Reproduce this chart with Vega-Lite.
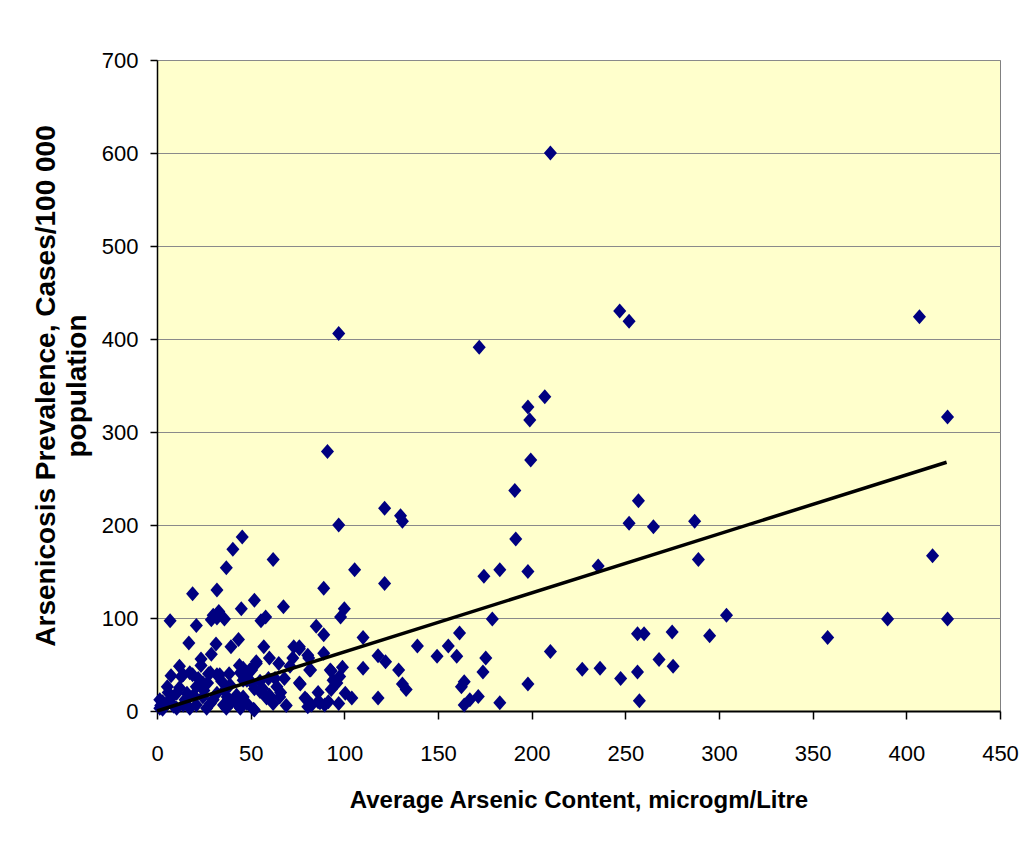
{
  "$schema": "https://vega.github.io/schema/vega-lite/v6.json",
  "width": 843,
  "height": 651,
  "autosize": "none",
  "padding": {"left": 157, "top": 60, "right": 22, "bottom": 144},
  "background": "white",
  "config": {
    "view": {"fill": "#FFFFCC", "stroke": "#808080", "strokeWidth": 1}
  },
  "datasets": {
    "pts": [
      {"As":210,"Prev":600},{"As":97,"Prev":406},{"As":172,"Prev":391},{"As":247,"Prev":430},{"As":252,"Prev":419},
      {"As":407,"Prev":424},{"As":422,"Prev":316},{"As":207,"Prev":338},{"As":198,"Prev":327},{"As":199,"Prev":313},
      {"As":199.5,"Prev":270},{"As":91,"Prev":279},{"As":191,"Prev":237},{"As":257,"Prev":226},{"As":121.5,"Prev":218},
      {"As":130,"Prev":210},{"As":131,"Prev":204},{"As":45.5,"Prev":187},{"As":40.5,"Prev":174},{"As":252,"Prev":202},
      {"As":265,"Prev":198},{"As":287,"Prev":204},{"As":97,"Prev":200},{"As":62,"Prev":163},{"As":289,"Prev":163},
      {"As":191.5,"Prev":185},{"As":37,"Prev":154},{"As":105.5,"Prev":152},{"As":121.5,"Prev":137},{"As":183,"Prev":152},
      {"As":198,"Prev":150},{"As":174.5,"Prev":145},{"As":235.5,"Prev":156},{"As":414,"Prev":167},{"As":390,"Prev":99},
      {"As":422,"Prev":99},{"As":358,"Prev":79},{"As":304,"Prev":103},{"As":295,"Prev":81},{"As":275,"Prev":85},
      {"As":275.5,"Prev":48},{"As":268,"Prev":55.5},{"As":256.5,"Prev":83},{"As":260,"Prev":83},{"As":256.5,"Prev":42},
      {"As":257.5,"Prev":11},{"As":247.5,"Prev":35},{"As":227,"Prev":45},{"As":236.5,"Prev":46},{"As":210,"Prev":64},
      {"As":198,"Prev":29},{"As":183,"Prev":9},{"As":19,"Prev":126},{"As":32,"Prev":130},{"As":52,"Prev":119},
      {"As":45,"Prev":110},{"As":67.5,"Prev":112},{"As":7,"Prev":97},{"As":21,"Prev":92},{"As":30,"Prev":103},
      {"As":32,"Prev":100},{"As":33,"Prev":107},{"As":29,"Prev":98},{"As":36,"Prev":99},{"As":55.5,"Prev":97},
      {"As":58,"Prev":101},{"As":89,"Prev":132},{"As":85,"Prev":91},{"As":89,"Prev":82},{"As":100,"Prev":110},
      {"As":98,"Prev":101},{"As":179,"Prev":99},{"As":110,"Prev":79},{"As":139,"Prev":70},{"As":155.5,"Prev":70},
      {"As":161.5,"Prev":84},{"As":149.5,"Prev":59},{"As":160,"Prev":59},{"As":175.5,"Prev":57},{"As":174,"Prev":42},
      {"As":118,"Prev":59.5},{"As":122,"Prev":53},{"As":110,"Prev":46},{"As":129,"Prev":44},{"As":131,"Prev":29},
      {"As":133,"Prev":23},{"As":118,"Prev":14},{"As":162.5,"Prev":26},{"As":164,"Prev":31.5},{"As":171.5,"Prev":15.5},
      {"As":167,"Prev":12},{"As":164,"Prev":6.5},
      {"As":17,"Prev":73},{"As":31.5,"Prev":72},{"As":39.5,"Prev":69},{"As":43.5,"Prev":77},{"As":29,"Prev":61},
      {"As":23.5,"Prev":56},{"As":57,"Prev":69},{"As":73,"Prev":69},{"As":76,"Prev":69},{"As":72.5,"Prev":57},
      {"As":80.5,"Prev":60},{"As":89,"Prev":62},{"As":60,"Prev":57},{"As":65,"Prev":51},{"As":12,"Prev":48},
      {"As":7.5,"Prev":38},{"As":5.5,"Prev":26},{"As":23.5,"Prev":49},{"As":44,"Prev":49},{"As":53,"Prev":51},
      {"As":50.5,"Prev":44},{"As":38.5,"Prev":40},{"As":33.5,"Prev":39},{"As":27.5,"Prev":40},{"As":19,"Prev":39},
      {"As":13,"Prev":37},{"As":81.5,"Prev":44},{"As":76.5,"Prev":29},{"As":93,"Prev":43},{"As":97.5,"Prev":37},
      {"As":99,"Prev":47},{"As":66,"Prev":20},{"As":69,"Prev":6},{"As":60,"Prev":17},{"As":64,"Prev":26},
      {"As":55,"Prev":32},{"As":59.5,"Prev":35},{"As":48,"Prev":33},{"As":80,"Prev":12},{"As":86,"Prev":20},
      {"As":87,"Prev":9},{"As":97,"Prev":8},{"As":100.5,"Prev":19},{"As":52,"Prev":1},{"As":44,"Prev":5},
      {"As":1.5,"Prev":12},{"As":17.5,"Prev":41},{"As":14,"Prev":39},{"As":28.5,"Prev":41},{"As":32,"Prev":39},
      {"As":24.5,"Prev":30},{"As":21,"Prev":26},{"As":34.5,"Prev":32},{"As":39,"Prev":28},{"As":44.5,"Prev":41},
      {"As":47,"Prev":35},{"As":10.5,"Prev":19},{"As":16,"Prev":19},{"As":19.5,"Prev":17},{"As":24.5,"Prev":15},
      {"As":32,"Prev":19},{"As":37.5,"Prev":15},{"As":42.5,"Prev":17},{"As":5,"Prev":8},{"As":14,"Prev":6.5},
      {"As":21,"Prev":6.5},{"As":28.5,"Prev":8},{"As":35.5,"Prev":6.5},{"As":42.5,"Prev":8},{"As":1.5,"Prev":3},
      {"As":10.5,"Prev":3},{"As":17.5,"Prev":3},{"As":26.5,"Prev":3},{"As":37,"Prev":3},{"As":44.5,"Prev":3},
      {"As":53,"Prev":53},{"As":49.5,"Prev":44},{"As":71,"Prev":48},{"As":63,"Prev":35},{"As":68,"Prev":35},
      {"As":46,"Prev":46},{"As":46,"Prev":33},{"As":49.5,"Prev":33},{"As":52,"Prev":24},{"As":56.5,"Prev":24},
      {"As":92.5,"Prev":44},{"As":94,"Prev":33},{"As":93,"Prev":23},{"As":65.5,"Prev":15},{"As":62,"Prev":8},
      {"As":55,"Prev":21},{"As":58.5,"Prev":14},{"As":79,"Prev":14},{"As":82.5,"Prev":6.5},{"As":86,"Prev":10},
      {"As":91.5,"Prev":10},{"As":51.5,"Prev":2},{"As":46,"Prev":15},{"As":48,"Prev":8},{"As":76,"Prev":67},
      {"As":81,"Prev":57},{"As":82,"Prev":44},{"As":96,"Prev":30},{"As":104,"Prev":14},{"As":80.5,"Prev":4.5},
      {"As":89.5,"Prev":6.5},{"As":76,"Prev":30},{"As":3,"Prev":10},{"As":8,"Prev":15},{"As":12,"Prev":25},
      {"As":6,"Prev":20},{"As":25,"Prev":22},{"As":30,"Prev":12},{"As":36,"Prev":22},{"As":40,"Prev":10},
      {"As":27,"Prev":30},{"As":22,"Prev":35},{"As":9,"Prev":5},{"As":3,"Prev":2},{"As":15,"Prev":12},{"As":2,"Prev":6}
    ],
    "trend": [
      {"As": 0, "Prev": 0},
      {"As": 421.5, "Prev": 267.5}
    ]
  },
  "layer": [
    {
      "data": {"name": "pts"},
      "mark": {"type": "point", "shape": "M-1,0L0,-1.15L1,0L0,1.15Z", "filled": true, "size": 170, "color": "#000080", "opacity": 1},
      "encoding": {
        "x": {
          "field": "As", "type": "quantitative",
          "scale": {"domain": [0, 450], "nice": false},
          "axis": {
            "values": [0, 50, 100, 150, 200, 250, 300, 350, 400, 450],
            "grid": false,
            "domainColor": "black", "domainWidth": 2,
            "tickColor": "black", "tickSize": 8, "tickWidth": 1.5,
            "labelFont": "Liberation Sans", "labelFontSize": 22, "labelColor": "black",
            "labelPadding": 24, "labelFlush": false,
            "title": "Average Arsenic Content, microgm/Litre",
            "titleFont": "Liberation Sans", "titleFontSize": 24, "titleFontWeight": "bold",
            "titleColor": "black", "titlePadding": 24
          }
        },
        "y": {
          "field": "Prev", "type": "quantitative",
          "scale": {"domain": [0, 700], "nice": false},
          "axis": {
            "values": [0, 100, 200, 300, 400, 500, 600, 700],
            "grid": true, "gridColor": "#8a8a8a", "gridWidth": 1,
            "domainColor": "black", "domainWidth": 1.5,
            "tickColor": "black", "tickSize": 7, "tickWidth": 1.5,
            "labelFont": "Liberation Sans", "labelFontSize": 22, "labelColor": "black",
            "labelPadding": 12, "labelFlush": false,
            "title": ["Arsenicosis Prevalence, Cases/100 000", "population"],
            "titleFont": "Liberation Sans", "titleFontSize": 28, "titleFontWeight": "bold",
            "titleColor": "black", "titlePadding": 10, "titleLineHeight": 31
          }
        }
      }
    },
    {
      "data": {"name": "trend"},
      "mark": {"type": "line", "color": "black", "strokeWidth": 3.5},
      "encoding": {
        "x": {"field": "As", "type": "quantitative"},
        "y": {"field": "Prev", "type": "quantitative"}
      }
    },
    {
      "mark": {"type": "text", "text": "n  = 0.6347C", "font": "Liberation Sans", "fontWeight": "bold", "fontSize": 23, "color": "black", "align": "center", "baseline": "middle"},
      "encoding": {
        "x": {"datum": 350, "type": "quantitative"},
        "y": {"datum": 633, "type": "quantitative"}
      }
    },
    {
      "mark": {"type": "text", "text": "R² = 0.2678", "font": "Liberation Sans", "fontWeight": "bold", "fontSize": 23, "color": "black", "align": "center", "baseline": "middle"},
      "encoding": {
        "x": {"datum": 350, "type": "quantitative"},
        "y": {"datum": 580, "type": "quantitative"}
      }
    }
  ]
}
